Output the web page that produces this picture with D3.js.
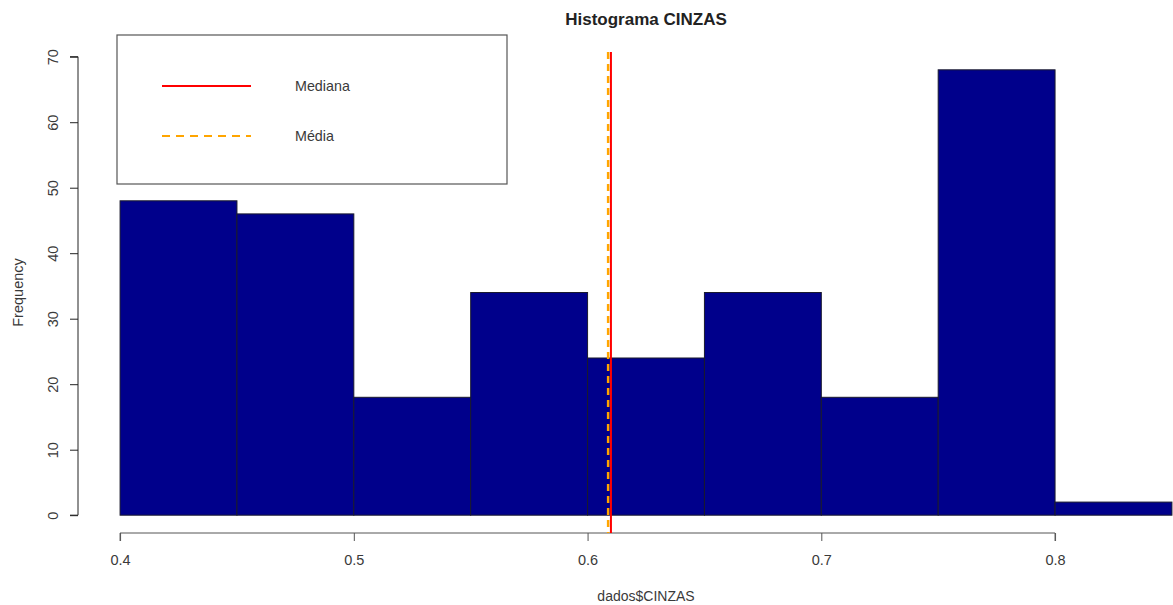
<!DOCTYPE html>
<html><head><meta charset="utf-8">
<script src="https://cdn.jsdelivr.net/npm/d3@7"></script>
<style>body{margin:0;background:#fff;}svg{display:block;font-family:"Liberation Sans",Arial,sans-serif;}</style>
</head><body>
<svg id="c" width="1173" height="605"></svg>
<script>
const binEdges = [0.40,0.45,0.50,0.55,0.60,0.65,0.70,0.75,0.80,0.85];
const counts = [48,46,18,34,24,34,18,68,2];
const xTicks = [0.4,0.5,0.6,0.7,0.8];
const yTicks = [0,10,20,30,40,50,60,70];
const medianValue = 0.6100;
const meanValue = 0.6088;
const legendLabels = ["Mediana","Média"];

(function(){
const svg = d3.select("#c");
const pL = 78, pR = 1214, pT = 52, pB = 533;
const xr = [0.40 - 0.018, 0.85 + 0.018];
const yr = [-2.72, 70.72];
const x = d3.scaleLinear().domain(xr).range([pL, pR]);
const y = d3.scaleLinear().domain(yr).range([pB, pT]);
const txt = "#3a3a3a";

// bars
const bins = counts.map((c,i)=>({x0:binEdges[i],x1:binEdges[i+1],c}));
svg.append("g").selectAll("rect").data(bins).join("rect")
  .attr("x",d=>x(d.x0)).attr("width",d=>x(d.x1)-x(d.x0))
  .attr("y",d=>y(d.c)).attr("height",d=>y(0)-y(d.c))
  .attr("fill","#00008B").attr("stroke","#1a1a2e").attr("stroke-width",1);

// x axis
const xa = svg.append("g").attr("transform",`translate(0,${pB})`)
  .call(d3.axisBottom(x).tickValues(xTicks).tickSize(8).tickSizeOuter(0).tickFormat(d3.format("")));
xa.select(".domain").attr("d",`M${x(0.4)},8V0H${x(0.8)}V8`).attr("stroke","#555");
xa.selectAll(".tick line").attr("stroke","#555");
xa.selectAll(".tick text").attr("dy",null).attr("y",32).attr("font-size",14.5).attr("fill",txt).attr("font-family","Liberation Sans, Arial, sans-serif");

// y axis
const ya = svg.append("g").attr("transform",`translate(${pL},0)`)
  .call(d3.axisLeft(y).tickValues(yTicks).tickSize(8).tickSizeOuter(0));
ya.select(".domain").attr("d",`M-8,${y(0)}H0V${y(70)}H-8`).attr("stroke","#222");
ya.selectAll(".tick line").attr("stroke","#222");
ya.selectAll(".tick text").attr("x",null).attr("dy",null)
  .attr("transform","translate(-25,0) rotate(-90)").attr("text-anchor","middle").attr("dominant-baseline","central")
  .attr("font-size",14.5).attr("fill",txt).attr("font-family","Liberation Sans, Arial, sans-serif");

// reference lines
svg.append("line").attr("x1",x(meanValue)).attr("x2",x(meanValue)).attr("y1",pT).attr("y2",pB)
  .attr("stroke","#FFA500").attr("stroke-width",2.5).attr("stroke-dasharray","7,5");
svg.append("line").attr("x1",x(medianValue)).attr("x2",x(medianValue)).attr("y1",pT).attr("y2",pB)
  .attr("stroke","#FF0000").attr("stroke-width",2);

// titles
svg.append("text").attr("x",(pL+pR)/2).attr("y",25).attr("text-anchor","middle")
  .attr("font-weight","bold").attr("font-size",17).attr("fill","#222").text("Histograma CINZAS");
svg.append("text").attr("x",(pL+pR)/2).attr("y",601).attr("text-anchor","middle")
  .attr("font-size",14).attr("fill",txt).text("dados$CINZAS");
svg.append("text").attr("transform",`translate(23,${(pT+pB)/2}) rotate(-90)`).attr("text-anchor","middle")
  .attr("font-size",14.5).attr("fill",txt).text("Frequency");

// legend
const lg = svg.append("g");
lg.append("rect").attr("x",117).attr("y",35).attr("width",390).attr("height",149)
  .attr("fill","#fff").attr("stroke","#555").attr("stroke-width",1.2);
const lstyles = [{c:"#FF0000",dash:null,w:2.2},{c:"#FFA500",dash:"8,6",w:2.2}];
legendLabels.forEach((lab,i)=>{
  const yy = 86 + i*50;
  lg.append("line").attr("x1",162).attr("x2",251).attr("y1",yy).attr("y2",yy)
    .attr("stroke",lstyles[i].c).attr("stroke-width",lstyles[i].w).attr("stroke-dasharray",lstyles[i].dash);
  lg.append("text").attr("x",295).attr("y",yy+5).attr("font-size",14.3).attr("fill",txt).text(lab);
});
})();
</script>
</body></html>
